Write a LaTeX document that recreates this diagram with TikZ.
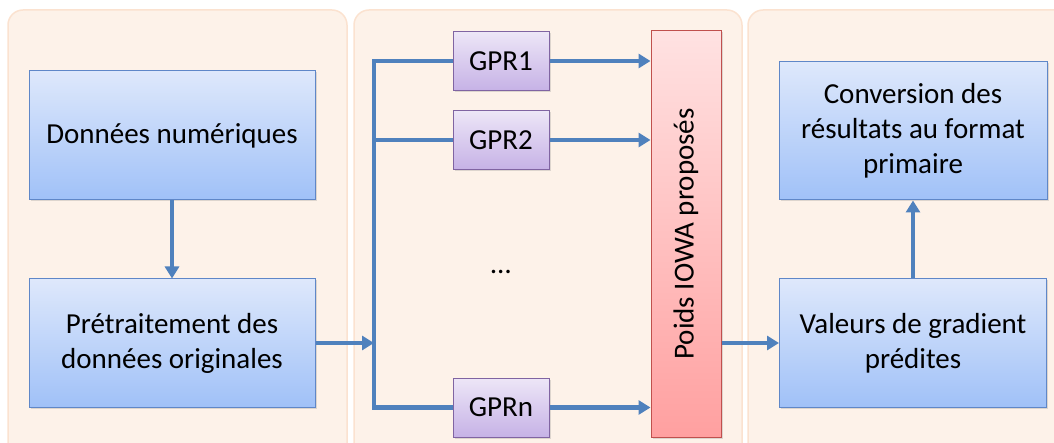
\documentclass[tikz,border=0pt]{standalone}
\usepackage{fontspec}
\setmainfont{Carlito}
\usetikzlibrary{arrows.meta,shadows}

\definecolor{panelfill}{RGB}{253,242,233}
\definecolor{panelline}{RGB}{251,226,208}
\definecolor{bluetop}{RGB}{222,232,251}
\definecolor{bluebot}{RGB}{160,193,248}
\definecolor{blueline}{RGB}{95,135,200}
\definecolor{purptop}{RGB}{237,230,247}
\definecolor{purpbot}{RGB}{198,178,230}
\definecolor{purpline}{RGB}{128,100,162}
\definecolor{redtop}{RGB}{255,226,226}
\definecolor{redbot}{RGB}{255,160,160}
\definecolor{redline}{RGB}{192,80,77}
\definecolor{flowcol}{RGB}{79,129,189}

\tikzset{
  panel/.style={draw=panelline,line width=1.5pt,fill=panelfill,rounded corners=15pt},
  bluebox/.style={draw=blueline,line width=1pt,top color=bluetop,bottom color=bluebot,
    align=center,inner sep=0pt,drop shadow={opacity=0.25,shadow xshift=1.5pt,shadow yshift=-1.5pt}},
  gprbox/.style={draw=purpline,line width=1pt,top color=purptop,bottom color=purpbot,
    minimum width=96,minimum height=59,inner sep=0pt,drop shadow={opacity=0.25,shadow xshift=1.5pt,shadow yshift=-1.5pt}},
  poidsbox/.style={draw=redline,line width=1pt,top color=redtop,bottom color=redbot,
    minimum width=70,minimum height=406,inner sep=0pt,drop shadow={opacity=0.25,shadow xshift=1.5pt,shadow yshift=-1.5pt}},
  flow/.style={draw=flowcol,line width=4.5pt,-{Triangle[length=12pt,width=14pt]}},
  bus/.style={draw=flowcol,line width=4.5pt}
}

\begin{document}
\begin{tikzpicture}[x=1pt,y=-1pt,font=\fontsize{29}{35}\selectfont]

\useasboundingbox (0,0) rectangle (1054,443);
\begin{scope}
\clip (0,0) rectangle (1054,443);
\path[panel] (8,10) rectangle (347,460);
\path[panel] (354,10) rectangle (742,460);
\path[panel] (748,10) rectangle (1075,460);
\end{scope}

% left column
\node[bluebox,minimum width=286,minimum height=129] (donnees) at (172,135.5) {Données numériques};
\node[bluebox,minimum width=286,minimum height=128] (pretraitement) at (172,343) {Prétraitement des\\données originales};

% GPR models
\node[gprbox] (gpr1) at (501,61) {GPR1};
\node[gprbox] (gpr2) at (501,140) {GPR2};
\node (dots) at (501,272) {\dots};
\node[gprbox] (gprn) at (501,407.5) {GPRn};
\node[poidsbox] (poids) at (686,234) {};
\node[rotate=90] (poidstxt) at (poids.center) {Poids IOWA proposés};

% right column
\node[bluebox,minimum width=268,minimum height=138] (conversion) at (913,131) {Conversion des\\résultats au format\\primaire};
\node[bluebox,minimum width=267,minimum height=128] (valeurs) at (913,343) {Valeurs de gradient\\prédites};

\coordinate (bustop) at (374,61);
\coordinate (busbot) at (374,407.5);

\draw[flow] (donnees) -- (pretraitement);
\draw[flow] (pretraitement.east) -- (pretraitement.east -| bustop);
\draw[bus] (gpr1.west) -- (bustop) -- (busbot) -- (gprn.west);
\draw[bus] (gpr2.west) -- (gpr2.west -| bustop);
\draw[flow] (gpr1.east) -- (gpr1.east -| poids.west);
\draw[flow] (gpr2.east) -- (gpr2.east -| poids.west);
\draw[flow] (gprn.east) -- (gprn.east -| poids.west);
\draw[flow] (poids.east |- valeurs.west) -- (valeurs.west);
\draw[flow] (valeurs) -- (valeurs |- conversion.south);

\end{tikzpicture}
\end{document}
